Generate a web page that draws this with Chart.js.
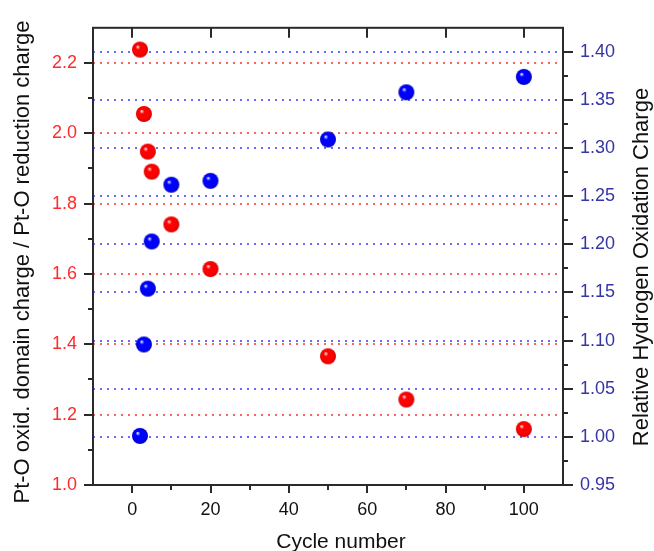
<!DOCTYPE html>
<html>
<head>
<meta charset="utf-8">
<script src="https://cdn.jsdelivr.net/npm/chart.js@4.4.1/dist/chart.umd.min.js"></script>
<style>
  html, body { margin: 0; padding: 0; background: #fff; }
</style>
</head>
<body>
<canvas id="chart" width="654" height="551"></canvas>
<script>
// 読み取り値
const cycles = [2, 3, 4, 5, 10, 20, 50, 70, 100];
const ptoRatio = [2.238, 2.055, 1.948, 1.891, 1.741, 1.614, 1.366, 1.243, 1.159];
const hydrogenCharge = [1.001, 1.096, 1.154, 1.203, 1.262, 1.266, 1.309, 1.358, 1.374];

// 目盛り
const xTicks = [0, 20, 40, 60, 80, 100];
const xMinor = [10, 30, 50, 70, 90];
const leftTicks = [1.0, 1.2, 1.4, 1.6, 1.8, 2.0, 2.2];
const leftMinor = [1.1, 1.3, 1.5, 1.7, 1.9, 2.1];
const rightTicks = [0.95, 1.00, 1.05, 1.10, 1.15, 1.20, 1.25, 1.30, 1.35, 1.40];
const rightMinor = [0.975, 1.025, 1.075, 1.125, 1.175, 1.225, 1.275, 1.325, 1.375];

const FONT = "'Liberation Sans', Arial, sans-serif";

// 球っぽいマーカー
function makeBall(light, mid, dark) {
    const c = document.createElement('canvas');
    c.width = c.height = 18;
    const g = c.getContext('2d');
    const grad = g.createRadialGradient(6.5, 6, 0.3, 9, 9, 8.5);
    grad.addColorStop(0, light);
    grad.addColorStop(0.25, mid);
    grad.addColorStop(0.7, mid);
    grad.addColorStop(1, dark);
    g.fillStyle = grad;
    g.beginPath();
    g.arc(9, 9, 8, 0, Math.PI * 2);
    g.fill();
    return c;
}
const redBall = makeBall('#ffe0e0', '#ff0000', '#c80000');
const blueBall = makeBall('#d8f0ff', '#0000ff', '#0000b0');

// 枠・目盛り・軸タイトル
const framePlugin = {
    id: 'frame',
    afterDraw(chart) {
        const { ctx, chartArea: a, scales } = chart;
        const line = (x1, y1, x2, y2) => {
            ctx.beginPath();
            ctx.moveTo(x1, y1);
            ctx.lineTo(x2, y2);
            ctx.stroke();
        };
        ctx.save();
        ctx.strokeStyle = '#2a2a2a';
        ctx.lineWidth = 2;
        ctx.strokeRect(a.left, a.top, a.right - a.left, a.bottom - a.top);

        xTicks.forEach(v => {
            const px = Math.round(scales.x.getPixelForValue(v));
            line(px, a.bottom, px, a.bottom + 8);
            line(px, a.top, px, a.top + 10);
        });
        xMinor.forEach(v => {
            const px = Math.round(scales.x.getPixelForValue(v));
            line(px, a.bottom, px, a.bottom + 5);
        });
        leftTicks.forEach(v => {
            const py = Math.round(scales.yL.getPixelForValue(v));
            line(a.left - 9, py, a.left, py);
        });
        leftMinor.forEach(v => {
            const py = Math.round(scales.yL.getPixelForValue(v));
            line(a.left - 5, py, a.left, py);
        });
        rightTicks.forEach(v => {
            const py = Math.round(scales.yR.getPixelForValue(v));
            line(a.right, py, a.right + 10, py);
        });
        rightMinor.forEach(v => {
            const py = Math.round(scales.yR.getPixelForValue(v));
            line(a.right, py, a.right + 5, py);
        });

        ctx.fillStyle = '#111';
        ctx.textAlign = 'center';
        ctx.textBaseline = 'alphabetic';
        ctx.font = '21px ' + FONT;
        ctx.fillText('Cycle number', 341, 548);

        ctx.font = '22px ' + FONT;
        ctx.save();
        ctx.translate(29, 262);
        ctx.rotate(-Math.PI / 2);
        ctx.fillText('Pt-O oxid. domain charge / Pt-O reduction charge', 0, 0);
        ctx.restore();

        ctx.save();
        ctx.translate(648, 267);
        ctx.rotate(-Math.PI / 2);
        ctx.fillText('Relative Hydrogen Oxidation Charge', 0, 0);
        ctx.restore();
        ctx.restore();
    }
};

const ctx = document.getElementById('chart');

new Chart(ctx, {
    type: 'scatter',
    data: {
        datasets: [
            {
                label: 'Pt-O oxid. domain charge / Pt-O reduction charge',
                data: cycles.map((c, i) => ({ x: c, y: ptoRatio[i] })),
                yAxisID: 'yL',
                pointStyle: redBall,
                pointRadius: 8
            },
            {
                label: 'Relative Hydrogen Oxidation Charge',
                data: cycles.map((c, i) => ({ x: c, y: hydrogenCharge[i] })),
                yAxisID: 'yR',
                pointStyle: blueBall,
                pointRadius: 8
            }
        ]
    },
    options: {
        responsive: false,
        animation: false,
        layout: { padding: { top: 13, left: 0, right: 0, bottom: 0 } },
        plugins: {
            legend: { display: false },
            tooltip: { enabled: false }
        },
        scales: {
            x: {
                type: 'linear',
                position: 'bottom',
                min: -10,
                max: 110,
                afterBuildTicks: s => { s.ticks = xTicks.map(v => ({ value: v })); },
                afterFit: s => { s.height = 66; },
                grid: { display: false },
                border: { display: false },
                ticks: {
                    color: '#111',
                    font: { family: FONT, size: 18 },
                    padding: 6,
                    maxRotation: 0,
                    callback: v => String(v)
                }
            },
            yL: {
                type: 'linear',
                position: 'left',
                min: 1.0,
                max: 2.3,
                afterBuildTicks: s => { s.ticks = leftTicks.map(v => ({ value: v })); },
                afterFit: s => { s.width = 93; },
                grid: {
                    drawTicks: false,
                    lineWidth: 2,
                    color: c => (c.tick && c.tick.value > 1.0) ? 'rgba(255,70,70,0.85)' : 'rgba(0,0,0,0)'
                },
                border: { display: false, dash: [2, 5] },
                ticks: {
                    color: '#ff2a2a',
                    font: { family: FONT, size: 18 },
                    padding: 16,
                    callback: v => v.toFixed(1)
                }
            },
            yR: {
                type: 'linear',
                position: 'right',
                min: 0.95,
                max: 1.425,
                afterBuildTicks: s => { s.ticks = rightTicks.map(v => ({ value: v })); },
                afterFit: s => { s.width = 91; },
                grid: {
                    drawTicks: false,
                    lineWidth: 2,
                    color: c => (c.tick && c.tick.value > 0.96) ? 'rgba(80,80,255,0.85)' : 'rgba(0,0,0,0)'
                },
                border: { display: false, dash: [2, 5] },
                ticks: {
                    color: '#3535a5',
                    font: { family: FONT, size: 18 },
                    padding: 17,
                    callback: v => v.toFixed(2)
                }
            }
        }
    },
    plugins: [framePlugin]
});
</script>
</body>
</html>
